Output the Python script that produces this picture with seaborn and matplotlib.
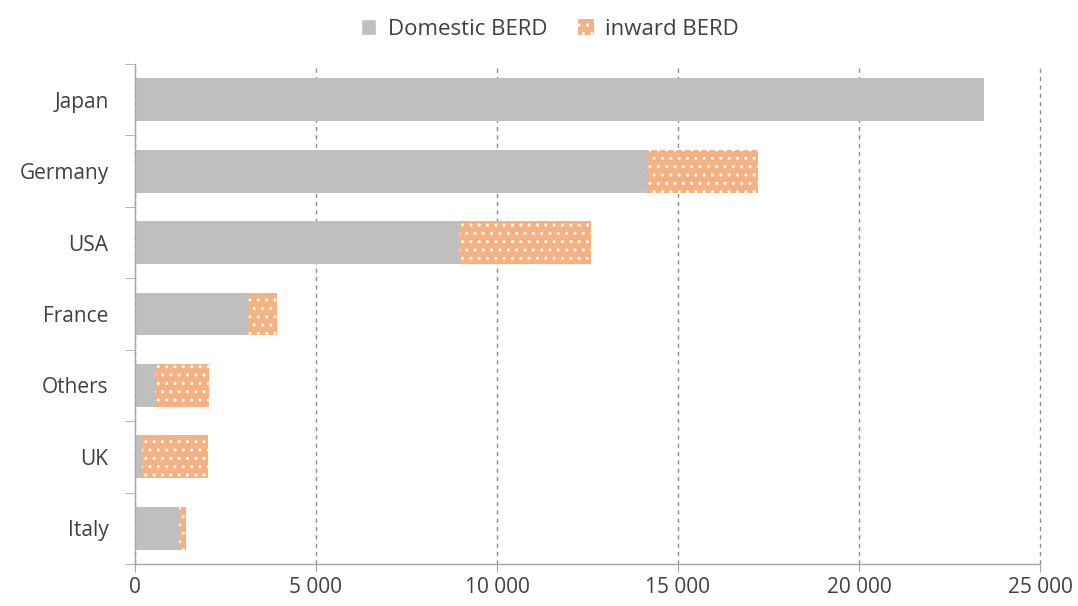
import matplotlib
matplotlib.use("Agg")
import matplotlib.pyplot as plt
import seaborn as sns
import pandas as pd
from matplotlib.patches import Patch

countries = ["Japan", "Germany", "USA", "France", "Others", "UK", "Italy"]
domestic = [23450, 14150, 8950, 3130, 560, 190, 1220]
inward = [0, 3070, 3650, 800, 1490, 1830, 190]

df = pd.DataFrame({"country": countries, "domestic": domestic, "inward": inward})
df["total"] = df["domestic"] + df["inward"]

sns.set_style("white")
plt.rcParams["font.family"] = ["Open Sans", "DejaVu Sans"]
plt.rcParams["text.color"] = "#404040"

gray = "#BFBFBF"
orange = "#F4B183"
axis_col = "#A6A6A6"

fig = plt.figure(figsize=(10.78, 6.06), dpi=100)
ax = fig.add_axes([0.1252, 0.0693, 0.8395, 0.8250])

# total bar (hatched orange) first, domestic drawn over it
sns.barplot(data=df, y="country", x="total", orient="h", color=orange,
            width=0.6, saturation=1, edgecolor="white", linewidth=0,
            hatch="..", ax=ax)
sns.barplot(data=df, y="country", x="domestic", orient="h", color=gray,
            width=0.6, saturation=1, linewidth=0, ax=ax)

ax.set_xlim(0, 25000)
ax.set_ylim(6.5, -0.5)
ax.set_xlabel("")
ax.set_ylabel("")
ax.set_xticks(range(0, 25001, 5000))
ax.set_xticklabels([f"{v:,}".replace(",", " ") for v in range(0, 25001, 5000)])
ax.xaxis.grid(True, color="#8C8C8C", linestyle=(0, (3, 3)), linewidth=1.0)
for gl in ax.get_xgridlines():
    gl.set_clip_on(False)
ax.set_axisbelow(True)

for s in ["top", "right"]:
    ax.spines[s].set_visible(False)
for s in ["left", "bottom"]:
    ax.spines[s].set_color(axis_col)
    ax.spines[s].set_linewidth(1.0)

ax.set_yticks([i - 0.5 for i in range(8)], minor=True)
ax.tick_params(axis="y", which="minor", length=7, color=axis_col, left=True)
ax.tick_params(axis="y", which="major", length=0, labelsize=15, pad=19,
               labelcolor="#404040")
ax.tick_params(axis="x", length=6, color=axis_col, bottom=True,
               labelsize=15, pad=3, labelcolor="#404040")

handles = [Patch(facecolor=gray, label="Domestic BERD"),
           Patch(facecolor=orange, edgecolor="white", linewidth=0, hatch="..",
                 label="inward BERD")]
fig.legend(handles=handles, loc="center", bbox_to_anchor=(0.51, 0.952), ncol=2,
           frameon=False, fontsize=16, handlelength=0.7, handleheight=0.7,
           columnspacing=1.4, handletextpad=0.5)

fig.savefig("out.png", dpi=100)
